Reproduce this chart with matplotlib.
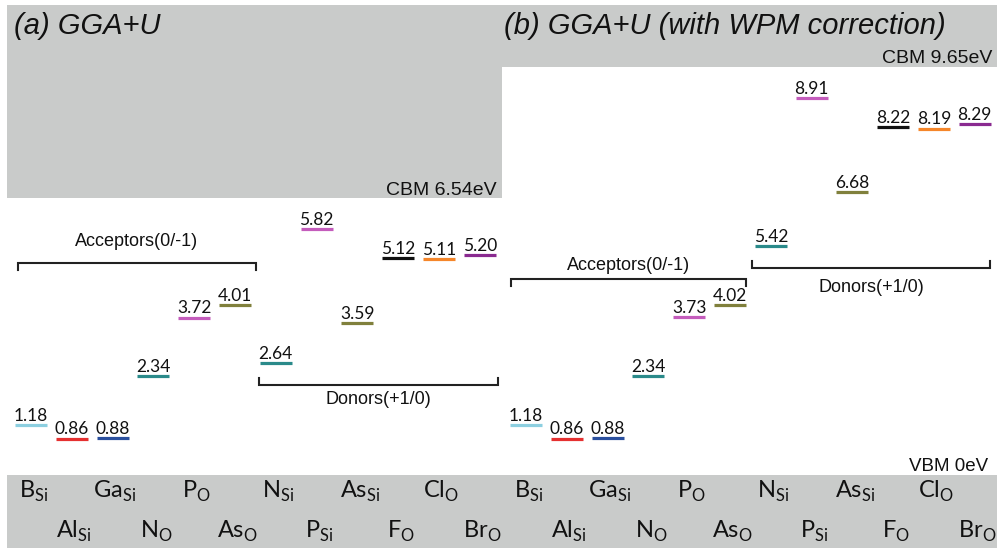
import matplotlib
matplotlib.use("Agg")
import matplotlib.pyplot as plt

# ---------------- data ----------------
defects = ["B_Si", "Al_Si", "Ga_Si", "N_O", "P_O", "As_O",
           "N_Si", "P_Si", "As_Si", "F_O", "Cl_O", "Br_O"]
label_main = ["B", "Al", "Ga", "N", "P", "As", "N", "P", "As", "F", "Cl", "Br"]
label_sub = ["Si", "Si", "Si", "O", "O", "O", "Si", "Si", "Si", "O", "O", "O"]
levels_a = [1.18, 0.86, 0.88, 2.34, 3.72, 4.01, 2.64, 5.82, 3.59, 5.12, 5.11, 5.20]
levels_b = [1.18, 0.86, 0.88, 2.34, 3.73, 4.02, 5.42, 8.91, 6.68, 8.22, 8.19, 8.29]
colors = ["#8ccfe0", "#e53030", "#2a4f9e", "#2a8a8a", "#c45cbc", "#80803c",
          "#2a8a8a", "#c45cbc", "#80803c", "#111111", "#f5862a", "#8a2a90"]
cbm_a = 6.54
cbm_b = 9.65
vbm = 0.0
titles = ["(a) GGA+U", "(b) GGA+U (with WPM correction)"]

# ---------------- layout helpers ----------------
W, H = 997, 548
SLOT_PX = 40.8      # pixel spacing between defect slots
X0_PX = 31          # pixel centre of first slot
EV_PX = 42.3        # pixels per eV
VBM_PX = 475        # pixel row of 0 eV
OFF_B = 495 / SLOT_PX
HALF = 0.39

def sx(px):  # pixel x -> slot coordinate
    return (px - X0_PX) / SLOT_PX

def ey(py):  # pixel y -> energy coordinate
    return (VBM_PX - py) / EV_PX

plt.rcParams["mathtext.fontset"] = "custom"
plt.rcParams["mathtext.rm"] = "Lato"

fig = plt.figure(figsize=(W / 100, H / 100), dpi=100)
ax = fig.add_axes([0, 0, 1, 1])
ax.set_xlim(sx(0), sx(W))
ax.set_ylim(ey(H), ey(0))
ax.axis("off")

gray = "#c9cbca"
top = ey(5)
left = sx(7)
mid = sx(502)
right = sx(W)
# gray conduction bands
ax.fill_between([left, mid], cbm_a, top, color=gray, lw=0, zorder=0)
ax.fill_between([mid, right], cbm_b, top, color=gray, lw=0, zorder=0)
# gray valence band
ax.fill_between([left, right], ey(H), vbm, color=gray, lw=0, zorder=0)

sans = "Liberation Sans"

# levels
for off, levels in ((0.0, levels_a), (OFF_B, levels_b)):
    for i, (v, c) in enumerate(zip(levels, colors)):
        x = i + off
        ax.hlines(v, x - HALF, x + HALF, color=c, lw=2.3, zorder=3)
        ax.annotate(f"{v:.2f}", (x, v), xytext=(0, 3.0), textcoords="offset points",
                    ha="center", va="baseline", fontsize=12.5, family="Lato",
                    color="#111111")
    # bottom labels
    for i, (m, s) in enumerate(zip(label_main, label_sub)):
        x = i + off + 0.06
        yrow = ey(491) if i % 2 == 0 else ey(531)
        ax.text(x, yrow, m + r"$_{\mathrm{" + s + "}}$", ha="center", va="center",
                fontsize=17, family="Lato", color="#111111")

# band labels
ax.text(sx(497), ey(195), f"CBM {cbm_a:.2f}eV", ha="right", va="baseline",
        fontsize=14, family=sans, color="#111111")
ax.text(sx(992), ey(63), f"CBM {cbm_b:.2f}eV", ha="right", va="baseline",
        fontsize=14, family=sans, color="#111111")
ax.text(sx(988), ey(471), f"VBM {vbm:.0f}eV", ha="right", va="baseline",
        fontsize=13.5, family=sans, color="#111111")

# titles
ax.text(sx(14), ey(26), titles[0], ha="left", va="center", fontsize=21,
        style="italic", family=sans, color="#111111")
ax.text(sx(504), ey(26), titles[1], ha="left", va="center", fontsize=21,
        style="italic", family=sans, color="#111111")

# brackets
def bracket(x1, x2, y, tick, text, ty):
    ax.plot([x1, x1, x2, x2], [y + tick, y, y, y + tick], color="#222222",
            lw=1.5, solid_joinstyle="miter", zorder=2)
    ax.text((x1 + x2) / 2, ty, text, ha="center", va="center", fontsize=13,
            family=sans, color="#111111")

tk = 7 / EV_PX
bracket(sx(18), sx(256), ey(263), -tk, "Acceptors(0/-1)", ey(242))
bracket(sx(259), sx(498), ey(385), tk, "Donors(+1/0)", ey(399))
bracket(sx(511), sx(746), ey(279), -tk, "Acceptors(0/-1)", ey(266))
bracket(sx(752), sx(990), ey(268), tk, "Donors(+1/0)", ey(287))

fig.savefig("out.png", dpi=100)
